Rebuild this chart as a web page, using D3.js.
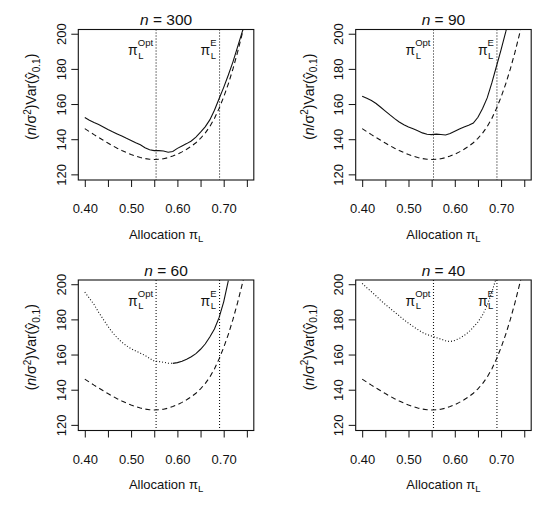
<!DOCTYPE html>
<html>
<head>
<meta charset="utf-8">
<script src="https://cdn.jsdelivr.net/npm/d3@7/dist/d3.min.js"></script>
<style>
  body { margin: 0; background: #fff; }
  svg { display: block; font-family: "Liberation Sans", Arial, Helvetica, sans-serif; }
</style>
</head>
<body>
<svg id="chart" width="536" height="513"></svg>
<script>
// --- data ---
const alloc = [0.40, 0.41, 0.42, 0.43, 0.44, 0.45, 0.46, 0.47, 0.48, 0.49,
               0.50, 0.51, 0.52, 0.53, 0.54, 0.55, 0.56, 0.57, 0.58, 0.59,
               0.60, 0.61, 0.62, 0.63, 0.64, 0.65, 0.66, 0.67, 0.68, 0.69,
               0.70, 0.71, 0.72, 0.73, 0.74, 0.75];

// dashed curve, same in every panel
const asymptotic = [146.0, 144.3, 142.6, 141.0, 139.4, 137.8, 136.3, 134.9, 133.6, 132.4,
                    131.3, 130.4, 129.6, 129.0, 128.6, 128.5, 128.6, 128.9, 129.5, 130.4,
                    131.5, 132.8, 134.3, 136.0, 138.0, 140.5, 143.5, 147.2, 151.8, 157.5,
                    164.0, 171.5, 180.0, 189.5, 200.0, 211.0];

const sim300 = [152.4, 150.8, 149.5, 148.3, 147.0, 145.5, 144.2, 143.0, 141.8, 140.5,
                139.3, 138.0, 136.8, 135.2, 134.0, 133.5, 133.5, 133.3, 132.6, 133.0,
                134.8, 136.2, 137.5, 139.0, 141.2, 144.0, 147.0, 151.0, 156.5, 163.0,
                169.5, 176.5, 184.0, 192.5, 201.0, 210.0];

const sim90 = [164.5, 163.3, 162.0, 160.3, 158.2, 156.0, 153.8, 151.7, 149.8, 148.2,
               147.0, 145.9, 144.8, 143.6, 142.8, 142.6, 142.9, 142.7, 142.4, 143.2,
               144.5, 145.8, 147.0, 148.0, 149.2, 152.5, 157.5, 163.5, 172.0, 181.5,
               191.0, 201.0, 212.0, null, null, null];

// n = 60: dotted part, then solid part
const sim60dot = [195.5, 192.0, 188.5, 184.0, 180.0, 176.0, 172.5, 169.5, 167.0, 165.0,
                  163.3, 162.0, 160.8, 159.5, 157.8, 156.3, 156.0, 155.6, 155.1, 155.0,
                  null, null, null, null, null, null, null, null, null, null,
                  null, null, null, null, null, null];
const sim60 = [null, null, null, null, null, null, null, null, null, null,
               null, null, null, null, null, null, null, null, null, 155.0,
               155.4, 156.2, 157.3, 158.8, 160.5, 163.0, 166.0, 170.0, 174.5, 181.0,
               190.0, 202.0, null, null, null, null];

const sim40dot = [200.5, 198.0, 195.7, 193.3, 190.8, 188.5, 186.3, 184.2, 182.0, 179.8,
                  177.8, 176.0, 174.2, 172.6, 171.4, 170.5, 169.6, 168.8, 167.8, 167.4,
                  168.0, 169.2, 170.8, 172.8, 175.5, 178.5, 182.5, 188.0, 195.5, 204.0,
                  null, null, null, null, null, null];

const sampleSizes = ["300", "90", "60", "40"];
const optLine = 0.554;   // pi_L^Opt
const eqLine = 0.691;    // pi_L^E

const xTicks = [0.40, 0.45, 0.50, 0.55, 0.60, 0.65, 0.70, 0.75];
const xTickLabels = ["0.40", "", "0.50", "", "0.60", "", "0.70", ""];
const yTicks = [120, 140, 160, 180, 200];

// --- layout ---
const boxW = 175.5, boxH = 150.5;
const layout = [
    { left: 78.3, top: 29.5 },
    { left: 355.7, top: 29.5 },
    { left: 78.3, top: 280 },
    { left: 355.7, top: 280 }
];
const solidSeries = [sim300, sim90, sim60, null];
const dottedSeries = [null, null, sim60dot, sim40dot];

const svg = d3.select("#chart");
const ink = "#111";

const x = d3.scaleLinear().domain([0.386, 0.765]).range([0, boxW]);
const y = d3.scaleLinear().domain([116.8, 202.4]).range([boxH, 0]);

const line = vals => d3.line()
    .defined((d, i) => vals[i] != null)
    .x((d, i) => x(alloc[i]))
    .y((d, i) => y(vals[i]))(alloc);

sampleSizes.forEach((n, i) => {
    const pos = layout[i];
    const g = svg.append("g")
        .attr("transform", `translate(${pos.left},${pos.top})`);

    g.append("clipPath").attr("id", `clip${i}`)
        .append("rect").attr("width", boxW).attr("height", boxH);

    // axes
    const xAxis = g.append("g")
        .attr("transform", `translate(0,${boxH})`)
        .call(d3.axisBottom(x).tickValues(xTicks).tickSize(7).tickSizeOuter(0).tickPadding(17)
            .tickFormat((d, k) => xTickLabels[k]));
    xAxis.select(".domain").remove();
    xAxis.selectAll("line").attr("stroke", ink);
    xAxis.selectAll("text").attr("font-size", 13).attr("fill", ink)
        .attr("font-family", null);

    const yAxis = g.append("g")
        .call(d3.axisLeft(y).tickValues(yTicks).tickSize(7).tickSizeOuter(0));
    yAxis.select(".domain").remove();
    yAxis.selectAll("line").attr("stroke", ink);
    yAxis.selectAll("text")
        .attr("font-size", 13).attr("fill", ink).attr("font-family", null)
        .attr("x", 0).attr("dy", 0)
        .attr("text-anchor", "middle")
        .attr("transform", "translate(-12.5,0) rotate(-90)");

    // curves
    const curves = g.append("g").attr("clip-path", `url(#clip${i})`)
        .attr("fill", "none").attr("stroke", ink).attr("stroke-width", 1.1);

    curves.append("path").attr("d", line(asymptotic))
        .attr("stroke-dasharray", "5,3.5");
    if (solidSeries[i]) curves.append("path").attr("d", line(solidSeries[i]));
    if (dottedSeries[i]) curves.append("path").attr("d", line(dottedSeries[i]))
        .attr("stroke-dasharray", "1,2");

    [optLine, eqLine].forEach(v => {
        curves.append("line")
            .attr("x1", x(v)).attr("x2", x(v))
            .attr("y1", 0).attr("y2", boxH)
            .attr("stroke-dasharray", "1,2");
    });

    // annotations pi_L^Opt and pi_L^E
    [[optLine, "Opt"], [eqLine, "E"]].forEach(([v, sup]) => {
        const ann = g.append("g").attr("fill", ink);
        const supText = ann.append("text")
            .attr("x", x(v) - 3).attr("y", 16.5)
            .attr("text-anchor", "end").attr("font-size", 9.5)
            .text(sup);
        const supW = supText.node().getComputedTextLength();
        const start = x(v) - 3 - supW;
        ann.append("text")
            .attr("x", start + 0.5).attr("y", 29)
            .attr("font-size", 9.5).text("L");
        ann.append("text")
            .attr("x", start).attr("y", 25.5)
            .attr("text-anchor", "end").attr("font-size", 14)
            .text("π");
    });

    // box
    g.append("rect")
        .attr("width", boxW).attr("height", boxH)
        .attr("fill", "none").attr("stroke", ink).attr("stroke-width", 1.1);

    // title
    const title = g.append("text")
        .attr("x", boxW / 2).attr("y", -4.5)
        .attr("text-anchor", "middle").attr("font-size", 15.5).attr("fill", ink);
    title.append("tspan").attr("font-style", "italic").text("n");
    title.append("tspan").text(` = ${n}`);

    // x label
    const xl = g.append("text")
        .attr("x", boxW / 2).attr("y", boxH + 58.5)
        .attr("text-anchor", "middle").attr("font-size", 13).attr("fill", ink);
    xl.append("tspan").text("Allocation π");
    xl.append("tspan").attr("font-size", 9.5).attr("dy", 3).text("L");

    // y label
    const yl = g.append("text")
        .attr("transform", `translate(-42,${boxH / 2 - 8}) rotate(-90)`)
        .attr("text-anchor", "middle").attr("font-size", 14).attr("fill", ink);
    yl.append("tspan").text("(");
    yl.append("tspan").attr("font-style", "italic").text("n");
    yl.append("tspan").text("/σ");
    yl.append("tspan").attr("font-size", 10).attr("dy", -5.5).text("2");
    yl.append("tspan").attr("dy", 5.5).text(")Var(ŷ");
    yl.append("tspan").attr("font-size", 10).attr("dy", 3.5).text("0.1");
    yl.append("tspan").attr("dy", -3.5).text(")");
});
</script>
</body>
</html>
